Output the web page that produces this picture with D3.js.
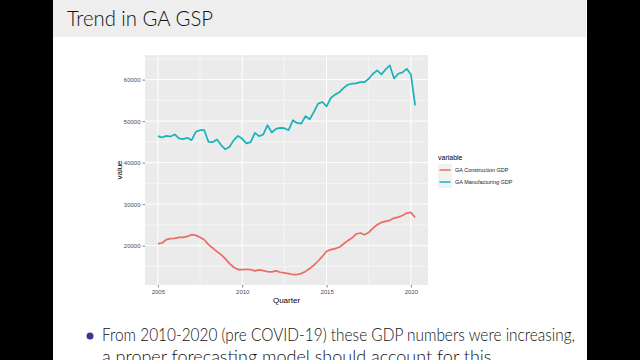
<!DOCTYPE html>
<html>
<head>
<meta charset="utf-8">
<script src="https://cdn.jsdelivr.net/npm/d3@7"></script>
<style>
  body { margin: 0; background: #000; }
  svg { display: block; }
</style>
</head>
<body>
<svg id="slide" width="640" height="360"></svg>
<script>
// quarterly series, 2005 Q1 .. 2020 Q2
const startYear = 2005;
const construction = [20480, 20640, 21440, 21680, 21760, 22000, 22000, 22240, 22640, 22480,
    22000, 21440, 20240, 19440, 18560, 17840, 16800, 15680, 14800, 14240,
    14240, 14320, 14240, 13920, 14160, 14000, 13760, 13680, 13920, 13600,
    13440, 13280, 13040, 13040, 13280, 13800, 14500, 15300, 16300, 17400,
    18640, 19040, 19280, 19600, 20400, 21200, 21840, 22800, 23040, 22640,
    23200, 24240, 25040, 25600, 25840, 26100, 26640, 26880, 27270, 27840,
    28000, 26800];
const manufacturing = [46380, 46060, 46450, 46300, 46790, 45830, 45660, 45980, 45420, 47420,
    47820, 47820, 45010, 44930, 45590, 44220, 43190, 43830, 45420, 46450,
    45740, 44630, 44930, 47170, 46380, 46790, 49020, 47260, 48130, 48370,
    48290, 47820, 50210, 49570, 49410, 51170, 50450, 52210, 54220, 54610,
    53570, 55570, 56370, 56930, 57960, 58770, 59010, 59090, 59400, 59400,
    60210, 61410, 62210, 61250, 62450, 63410, 60290, 61410, 61730, 62610,
    61250, 53810];
const seriesNames = ["GA Construction GDP", "GA Manufacturing GDP"];
const xTicks = [2005, 2010, 2015, 2020];
const yTicks = [20000, 30000, 40000, 50000, 60000];

const svg = d3.select("#slide");

// slide background with black pillar bars
svg.append("rect").attr("width", 640).attr("height", 360).attr("fill", "#000");
svg.append("rect").attr("x", 53).attr("y", 0).attr("width", 534).attr("height", 360).attr("fill", "#fff");
svg.append("rect").attr("x", 53).attr("y", 0).attr("width", 533).attr("height", 37).attr("fill", "#eeeeee");

const slideFont = "Lato, 'Open Sans', sans-serif";

svg.append("text")
    .attr("x", 67).attr("y", 26)
    .attr("textLength", 146).attr("lengthAdjust", "spacingAndGlyphs")
    .style("font-family", slideFont)
    .style("font-weight", 300)
    .style("font-size", "21px")
    .style("fill", "#111")
    .text("Trend in GA GSP");

// chart
const series = [
    { name: seriesNames[0], values: construction, color: "#ec6b63" },
    { name: seriesNames[1], values: manufacturing, color: "#17b2ba" }
];
series.forEach(s => {
    s.points = s.values.map((v, i) => ({ t: startYear + i / 4, v: v }));
});

const panel = { left: 145, right: 428, top: 55, bottom: 285 };

const tExtent = [startYear, startYear + (construction.length - 1) / 4];
const tPad = (tExtent[1] - tExtent[0]) * 0.05;
const xScale = d3.scaleLinear()
    .domain([tExtent[0] - tPad, tExtent[1] + tPad])
    .range([panel.left, panel.right]);

const vExtent = d3.extent(construction.concat(manufacturing));
const vPad = (vExtent[1] - vExtent[0]) * 0.05;
const yScale = d3.scaleLinear()
    .domain([vExtent[0] - vPad, vExtent[1] + vPad])
    .range([panel.bottom, panel.top]);

const chart = svg.append("g");

chart.append("rect")
    .attr("x", panel.left).attr("y", panel.top)
    .attr("width", panel.right - panel.left)
    .attr("height", panel.bottom - panel.top)
    .attr("fill", "#ebebeb");

// grid lines
const xMinor = xTicks.slice(0, -1).map(d => d + 2.5);
const yMinor = [15000, 25000, 35000, 45000, 55000, 65000]
    .filter(d => d > yScale.domain()[0] && d < yScale.domain()[1]);

chart.selectAll(".gx-minor").data(xMinor).enter().append("line")
    .attr("x1", d => xScale(d)).attr("x2", d => xScale(d))
    .attr("y1", panel.top).attr("y2", panel.bottom)
    .attr("stroke", "#fff").attr("stroke-width", 0.5);
chart.selectAll(".gy-minor").data(yMinor).enter().append("line")
    .attr("x1", panel.left).attr("x2", panel.right)
    .attr("y1", d => yScale(d)).attr("y2", d => yScale(d))
    .attr("stroke", "#fff").attr("stroke-width", 0.5);
chart.selectAll(".gx").data(xTicks).enter().append("line")
    .attr("x1", d => xScale(d)).attr("x2", d => xScale(d))
    .attr("y1", panel.top).attr("y2", panel.bottom)
    .attr("stroke", "#fff").attr("stroke-width", 1);
chart.selectAll(".gy").data(yTicks).enter().append("line")
    .attr("x1", panel.left).attr("x2", panel.right)
    .attr("y1", d => yScale(d)).attr("y2", d => yScale(d))
    .attr("stroke", "#fff").attr("stroke-width", 1);

// lines
const line = d3.line().x(d => xScale(d.t)).y(d => yScale(d.v));
chart.selectAll(".series").data(series).enter().append("path")
    .attr("d", d => line(d.points))
    .attr("fill", "none")
    .attr("stroke", d => d.color)
    .attr("stroke-width", 1.7)
    .attr("stroke-linejoin", "round");

// axes
const xAxis = chart.append("g")
    .attr("transform", `translate(0, ${panel.bottom})`)
    .call(d3.axisBottom(xScale).tickValues(xTicks).tickFormat(d3.format("d")).tickSize(2.5).tickPadding(2));
const yAxis = chart.append("g")
    .attr("transform", `translate(${panel.left}, 0)`)
    .call(d3.axisLeft(yScale).tickValues(yTicks).tickFormat(d3.format("d")).tickSize(2.5).tickPadding(2));
[xAxis, yAxis].forEach(a => {
    a.select(".domain").remove();
    a.selectAll(".tick line").attr("stroke", "#333").attr("stroke-width", 0.6);
    a.selectAll(".tick text")
        .style("font-family", "'Liberation Sans', Arial, sans-serif")
        .style("font-size", "6px")
        .attr("fill", "#4d4d4d");
});

chart.append("text")
    .attr("x", (panel.left + panel.right) / 2).attr("y", 303)
    .attr("text-anchor", "middle")
    .style("font-family", "'Liberation Sans', Arial, sans-serif")
    .style("font-size", "8px")
    .text("Quarter");
chart.append("text")
    .attr("transform", `translate(122, ${(panel.top + panel.bottom) / 2}) rotate(-90)`)
    .attr("text-anchor", "middle")
    .style("font-family", "'Liberation Sans', Arial, sans-serif")
    .style("font-size", "8px")
    .text("value");

// legend
const legend = chart.append("g").attr("transform", "translate(438, 0)");
legend.append("text")
    .attr("x", 0).attr("y", 160)
    .style("font-family", "'Liberation Sans', Arial, sans-serif")
    .style("font-size", "7px")
    .text("variable");
const keys = legend.selectAll(".key").data(series).enter().append("g")
    .attr("transform", (d, i) => `translate(0, ${164 + i * 12})`);
keys.append("rect")
    .attr("width", 14).attr("height", 12).attr("fill", "#f2f2f2");
keys.append("line")
    .attr("x1", 1.5).attr("x2", 12.5).attr("y1", 6).attr("y2", 6)
    .attr("stroke", d => d.color).attr("stroke-width", 1.5);
keys.append("text")
    .attr("x", 17).attr("y", 8)
    .style("font-family", "'Liberation Sans', Arial, sans-serif")
    .style("font-size", "5.5px")
    .attr("fill", "#222")
    .text(d => d.name);

// bullet text
svg.append("circle")
    .attr("cx", 90).attr("cy", 336).attr("r", 3.5)
    .attr("fill", "#3a3a8c");
svg.append("text")
    .attr("x", 102).attr("y", 341)
    .attr("textLength", 473).attr("lengthAdjust", "spacingAndGlyphs")
    .style("font-family", slideFont).style("font-weight", 300)
    .style("font-size", "18px").style("fill", "#111")
    .text("From 2010-2020 (pre COVID-19) these GDP numbers were increasing,");
svg.append("text")
    .attr("x", 102).attr("y", 363)
    .style("font-family", slideFont).style("font-weight", 300)
    .style("font-size", "18px").style("fill", "#111")
    .text("a proper forecasting model should account for this.");
</script>
</body>
</html>
